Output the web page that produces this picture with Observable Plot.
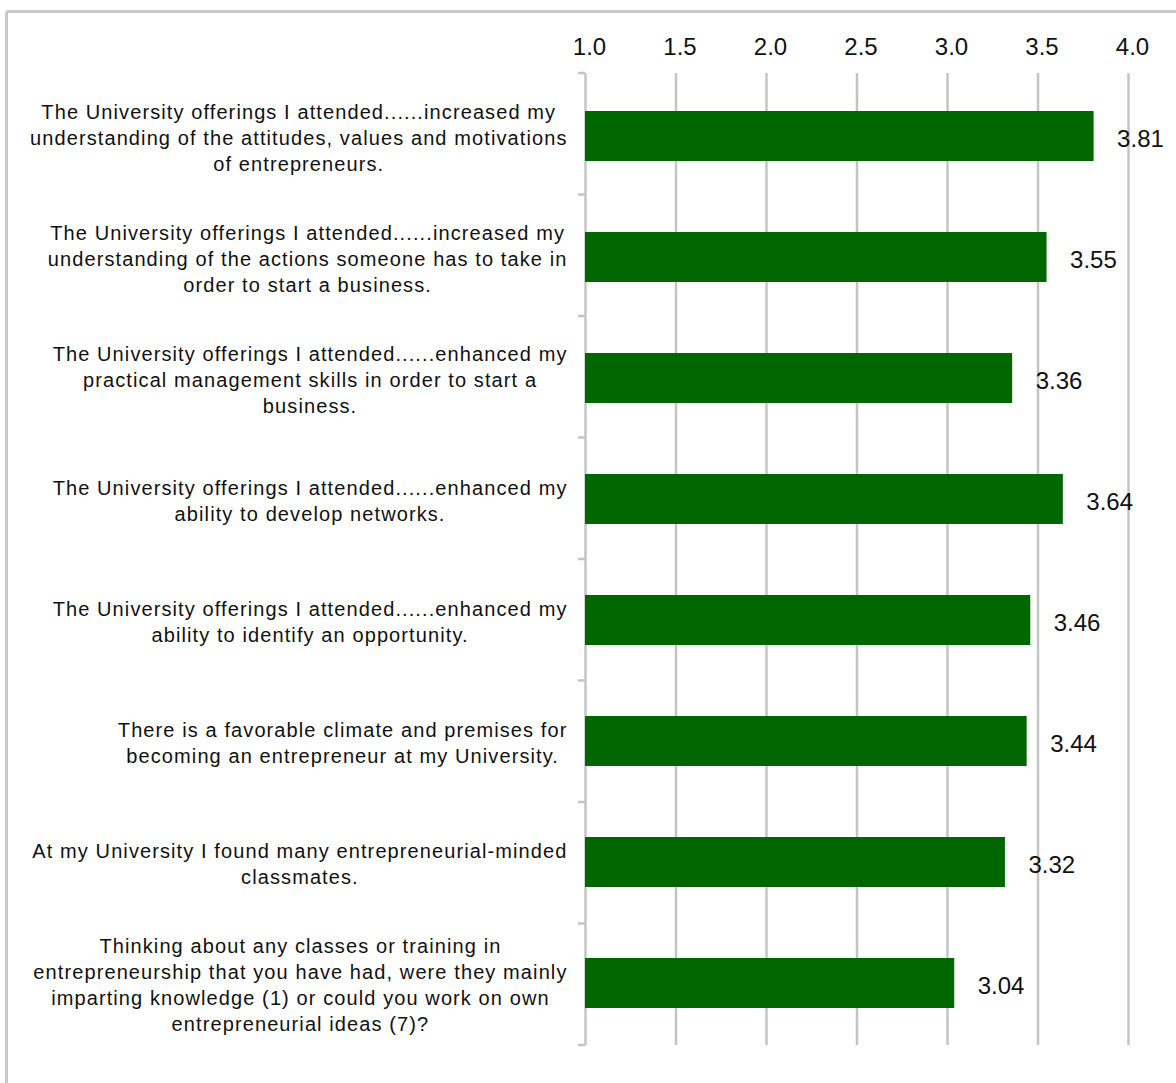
<!DOCTYPE html>
<html>
<head>
<meta charset="utf-8">
<script src="https://cdn.jsdelivr.net/npm/d3@7"></script>
<script src="https://cdn.jsdelivr.net/npm/@observablehq/plot@0.6"></script>
<style>
  html, body { margin: 0; padding: 0; background: #fff; overflow: hidden; }
  #frame {
    position: absolute; left: 5px; top: 10px; width: 1200px; height: 1100px;
    border: 3px solid #c8c8c8; border-radius: 4px; box-sizing: border-box;
  }
  #chart { position: absolute; left: 0; top: 0; }
</style>
</head>
<body>
<div id="frame"></div>
<div id="chart"></div>
<script>
// Survey statements (line breaks as displayed) and their mean ratings
const statements = [
  "The University offerings I attended......increased my\nunderstanding of the attitudes, values and motivations\nof entrepreneurs.",
  "The University offerings I attended......increased my\nunderstanding of the actions someone has to take in\norder to start a business.",
  "The University offerings I attended......enhanced my\npractical management skills in order to start a\nbusiness.",
  "The University offerings I attended......enhanced my\nability to develop networks.",
  "The University offerings I attended......enhanced my\nability to identify an opportunity.",
  "There is a favorable climate and premises for\nbecoming an entrepreneur at my University.",
  "At my University I found many entrepreneurial-minded\nclassmates.",
  "Thinking about any classes or training in\nentrepreneurship that you have had, were they mainly\nimparting knowledge (1) or could you work on own\nentrepreneurial ideas (7)?"
];
const means = [3.81, 3.55, 3.36, 3.64, 3.46, 3.44, 3.32, 3.04];
const xTicks = [1.0, 1.5, 2.0, 2.5, 3.0, 3.5, 4.0];

const rows = statements.map((s, i) => ({statement: s, mean: means[i]}));

const FONT = "'Liberation Sans', Arial, sans-serif";
const LABEL_SIZE = 20;
const LETTER_SPACING = 1.1;
const GRID = "#c4c4c4";

// Width of the widest line of each statement, so each block sits right-aligned to the axis
const ctx = document.createElement("canvas").getContext("2d");
ctx.font = `${LABEL_SIZE}px ${FONT}`;
const lineWidth = line => ctx.measureText(line).width + line.length * LETTER_SPACING;
const blockWidth = s => d3.max(s.split("\n"), lineWidth);

// Short ticks on the category axis, drawn at the band boundaries
const boundaryTicks = (index, scales, values, dims) => {
  const {marginTop, marginBottom, marginLeft, height} = dims;
  const n = statements.length;
  const step = (height - marginTop - marginBottom) / n;
  const g = d3.create("svg:g").attr("stroke", GRID).attr("stroke-width", 2.5);
  for (let i = 0; i <= n; ++i) {
    const y = marginTop + i * step;
    g.append("line").attr("x1", marginLeft - 7).attr("x2", marginLeft).attr("y1", y).attr("y2", y);
  }
  return g.node();
};

const chart = Plot.plot({
  width: 1176,
  height: 1083,
  marginTop: 73,
  marginBottom: 38,
  marginLeft: 585,
  marginRight: 48,
  style: {fontFamily: FONT, color: "#111", background: "transparent"},
  x: {domain: [1, 4], label: null},
  y: {domain: statements, paddingInner: 0.59, paddingOuter: 0.295, axis: null},
  marks: [
    Plot.ruleX(xTicks, {stroke: GRID, strokeWidth: 2.5}),
    boundaryTicks,
    Plot.axisX({
      ticks: xTicks, anchor: "top", tickSize: 0, tickPadding: 19, label: null,
      fontSize: 24, dx: 4, tickFormat: d => d.toFixed(1)
    }),
    Plot.barX(rows, {x1: 1, x2: "mean", y: "statement", fill: "#006600"}),
    Plot.text(rows, {
      x: "mean", y: "statement", text: d => d.mean.toFixed(2),
      textAnchor: "start", dx: 23, dy: 3, fontSize: 24, fill: "#111"
    }),
    ...statements.map(s => Plot.text([s], {
      x: 1, y: d => d, text: d => d, ariaDescription: "statement",
      textAnchor: "middle", lineHeight: 26 / LABEL_SIZE, fontSize: LABEL_SIZE,
      dx: -(18 + blockWidth(s) / 2), fill: "#111"
    }))
  ]
});
// widen the statement text the way the category labels are set
d3.select(chart).selectAll('g[aria-description="statement"] text')
  .style("letter-spacing", `${LETTER_SPACING}px`);
document.getElementById("chart").appendChild(chart);
</script>
</body>
</html>
